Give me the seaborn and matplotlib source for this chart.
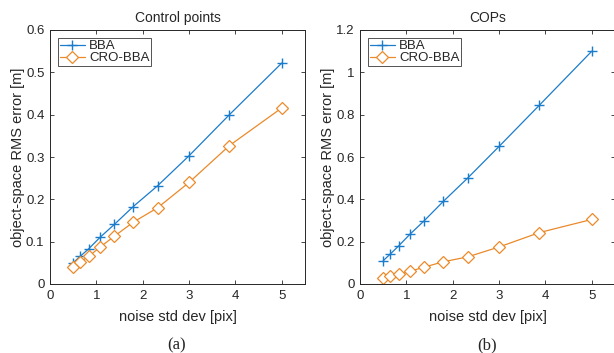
import matplotlib.pyplot as plt
import seaborn as sns

noise = [0.5, 0.646, 0.834, 1.077, 1.39, 1.796, 2.32, 3.0, 3.87, 5.0]
cp_bba = [0.050, 0.065, 0.083, 0.110, 0.141, 0.183, 0.232, 0.303, 0.400, 0.522]
cp_cro = [0.040, 0.052, 0.065, 0.087, 0.113, 0.146, 0.180, 0.240, 0.327, 0.416]
cop_bba = [0.110, 0.140, 0.180, 0.235, 0.300, 0.390, 0.500, 0.650, 0.845, 1.100]
cop_cro = [0.030, 0.037, 0.045, 0.060, 0.080, 0.105, 0.128, 0.175, 0.243, 0.305]

titles = ['Control points', 'COPs']
captions = ['(a)', '(b)']
ylims = [(0, 0.6), (0, 1.2)]
yticks = [[0, 0.1, 0.2, 0.3, 0.4, 0.5, 0.6], [0, 0.2, 0.4, 0.6, 0.8, 1.0, 1.2]]
yticklabels = [['0', '0.1', '0.2', '0.3', '0.4', '0.5', '0.6'],
               ['0', '0.2', '0.4', '0.6', '0.8', '1', '1.2']]

sns.set_style("ticks")
plt.rcParams['font.family'] = ['Liberation Sans', 'DejaVu Sans']

W, H = 614, 353
fig = plt.figure(figsize=(W / 100, H / 100), dpi=100)
lefts = [50, 360]
axes = [fig.add_axes([l / W, 69 / H, 255 / W, 254 / H]) for l in lefts]

blue = '#1B7CCB'
orange = '#EA8A2A'
data = [(cp_bba, cp_cro), (cop_bba, cop_cro)]

for i, ax in enumerate(axes):
    bba, cro = data[i]
    sns.lineplot(x=noise, y=bba, ax=ax, color=blue, linewidth=0.9,
                 marker='+', markersize=7, markeredgewidth=1.0,
                 markeredgecolor=blue, label='BBA')
    sns.lineplot(x=noise, y=cro, ax=ax, color=orange, linewidth=0.9,
                 marker='D', markersize=6.5, markeredgewidth=0.9,
                 markeredgecolor=orange, markerfacecolor='white', label='CRO-BBA')
    ax.set_xlim(0, 5.5)
    ax.set_ylim(*ylims[i])
    ax.set_xticks([0, 1, 2, 3, 4, 5])
    ax.set_yticks(yticks[i])
    ax.set_yticklabels(yticklabels[i])
    ax.tick_params(direction='in', top=True, right=True, labelsize=9.5,
                   length=3, width=0.6, colors='#262626', pad=4)
    for s in ax.spines.values():
        s.set_visible(True)
        s.set_linewidth(0.7)
        s.set_color('#262626')
    ax.set_title(titles[i], fontsize=10, pad=6)
    ax.set_xlabel('noise std dev [pix]', fontsize=10.5, labelpad=6)
    ax.set_ylabel('object-space RMS error [m]', fontsize=10.5, labelpad=1)
    leg = ax.legend(loc='upper left', fontsize=9.5, frameon=True, fancybox=False,
                    edgecolor='#262626', borderaxespad=0.6, handlelength=1.9,
                    borderpad=0.15, labelspacing=0.0, handletextpad=0.3)
    leg.get_frame().set_linewidth(0.7)
    fig.text((lefts[i] + 127) / W, 1 - 345 / H, captions[i], ha='center',
             va='center', fontsize=12, family='Liberation Serif')

fig.savefig('out.png', dpi=100)
